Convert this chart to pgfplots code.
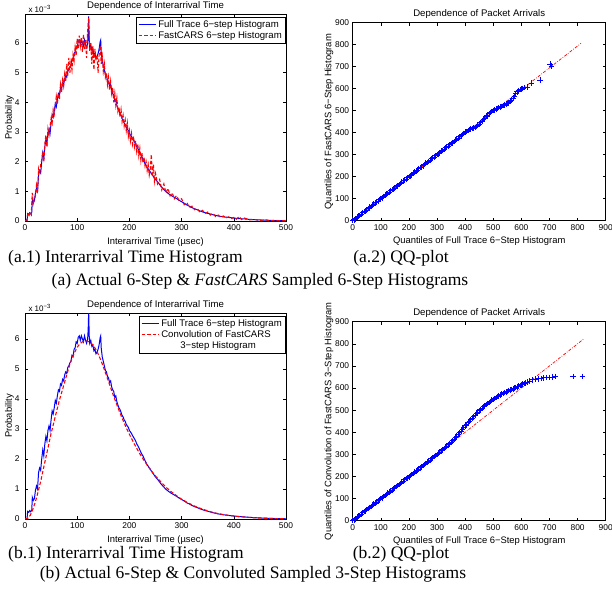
\documentclass[border=0pt]{standalone}
\usepackage{fontspec}
\setmainfont{Liberation Serif}
\newfontfamily\hv{Liberation Sans}
\usepackage{pgfplots}
\pgfplotsset{compat=1.18}

\pgfplotsset{
  every axis title shift=0pt,
  mlab/.style={
    scale only axis,
    font=\hv\fontsize{8.4}{10}\selectfont,
    tick align=inside, major tick length=3pt,
    axis line style={line width=0.6pt},
    every tick/.style={black, line width=0.5pt},
    /pgf/number format/assume math mode=true,
    scaled ticks=false,
    label style={font=\hv\fontsize{9.4}{11}\selectfont},
    title style={font=\hv\fontsize{9.6}{11}\selectfont, at={(0.5,1)}, anchor=base, yshift=5.8pt},
  },
  hist/.style={mlab,
    width=261pt, height=207pt,
    xmin=0, xmax=500, ymin=0,
    xtick={0,100,...,500}, ytick={0,1,...,6},
    yticklabel style={xshift=-2pt},
    ylabel shift=-6pt,
    xlabel={Interarrival Time (µsec)}, ylabel={Probability},
    title={Dependence of Interarrival Time},
    legend cell align=left,
    legend style={at={(1,1)}, anchor=north east, xshift=-0.5pt, yshift=-3pt,
      font=\hv\fontsize{9.6}{11}\selectfont, inner sep=1.5pt, row sep=-1.5pt},
    after end axis/.code={\node[anchor=base west, font=\hv\fontsize{8}{9.6}\selectfont]
      at ([yshift=2pt]rel axis cs:0,1) {x 10\textsuperscript{−3}};},
  },
  qq/.style={mlab,
    width=253pt, height=198pt,
    xmin=0, xmax=900, ymin=0, ymax=900,
    xtick={0,100,...,900}, ytick={0,100,...,900},
    ylabel shift=-5pt,
    xlabel={Quantiles of Full Trace 6−Step Histogram},
    title={Dependence of Packet Arrivals},
  },
  bluehist/.style={blue, line width=1pt, no marks},
  reddash/.style={red, line width=1.1pt, no marks, dash pattern=on 3.5pt off 2pt},
  qqpts/.style={blue, only marks, mark=+, mark size=2.8pt, line width=0.8pt},
  qqline/.style={red, line width=0.7pt, dash pattern=on 3pt off 1.5pt on 0.7pt off 1.5pt},
}

\begin{document}

% full trace 6-step histogram (probability x 1e-3), used in both (a.1) and (b.1)
\pgfplotstableread[row sep=\\]{
x y\\
0 0\\ 4 0.02\\ 5 0.25\\ 7 0.22\\ 9 0.28\\ 11 0.24\\ 13 0.3\\ 14 0.72\\ 16 0.62\\ 18 0.68\\
20 0.95\\ 22 1.1\\ 24 1.0\\ 26 1.55\\ 28 1.7\\ 30 1.62\\ 32 2.0\\ 34 2.3\\ 36 2.1\\ 38 2.5\\
40 2.75\\ 42 2.6\\ 44 2.95\\ 46 3.1\\ 48 2.95\\ 50 3.3\\ 52 3.6\\ 54 3.5\\ 56 3.7\\ 58 3.95\\
60 3.85\\ 62 4.1\\ 64 4.3\\ 66 4.25\\ 68 4.5\\ 70 4.45\\ 72 4.65\\ 74 4.6\\ 76 4.8\\ 78 4.9\\
80 4.85\\ 82 5.05\\ 84 5.1\\ 86 5.2\\ 88 5.25\\ 90 5.45\\ 92 5.4\\ 94 5.65\\ 96 5.7\\ 98 5.9\\
100 5.85\\ 102 6.05\\ 104 6.1\\ 106 5.95\\ 108 6.1\\ 110 6.0\\ 112 5.9\\ 114 6.1\\ 116 5.95\\ 118 5.85\\
120 6.0\\ 121 6.3\\ 122 6.9\\ 123 6.1\\ 124 5.85\\ 126 5.95\\ 128 5.75\\ 130 5.8\\ 132 5.6\\ 134 5.65\\
136 5.5\\ 138 5.55\\ 140 5.65\\ 142 5.8\\ 144 6.05\\ 145 6.1\\ 146 5.7\\ 148 5.4\\ 150 5.25\\ 152 5.1\\
154 4.95\\ 156 4.9\\ 158 4.75\\ 160 4.7\\ 162 4.55\\ 164 4.6\\ 166 4.4\\ 168 4.3\\ 170 4.25\\ 172 4.05\\
174 4.1\\ 176 3.9\\ 178 3.8\\ 180 3.7\\ 182 3.65\\ 184 3.55\\ 186 3.45\\ 188 3.4\\ 190 3.3\\ 192 3.25\\
194 3.15\\ 196 3.1\\ 198 3.05\\ 200 2.95\\ 202 2.9\\ 204 2.85\\ 206 2.78\\ 208 2.72\\ 210 2.66\\ 212 2.6\\
214 2.5\\ 216 2.45\\ 218 2.38\\ 220 2.3\\ 222 2.22\\ 224 2.15\\ 226 2.1\\ 228 2.02\\ 230 1.94\\ 232 1.88\\
234 1.8\\ 236 1.76\\ 238 1.7\\ 240 1.66\\ 242 1.6\\ 244 1.55\\ 246 1.5\\ 248 1.45\\ 250 1.4\\ 255 1.3\\
260 1.18\\ 265 1.08\\ 270 0.99\\ 275 0.92\\ 280 0.86\\ 285 0.81\\ 290 0.76\\ 295 0.7\\ 300 0.65\\ 305 0.6\\
310 0.54\\ 315 0.5\\ 320 0.45\\ 325 0.41\\ 330 0.38\\ 335 0.34\\ 340 0.31\\ 345 0.28\\ 350 0.26\\ 360 0.21\\
370 0.17\\ 380 0.14\\ 390 0.12\\ 400 0.1\\ 410 0.08\\ 420 0.07\\ 430 0.055\\ 440 0.045\\ 450 0.035\\ 460 0.03\\
470 0.02\\ 480 0.015\\ 490 0.01\\ 500 0.008\\
}\fulltrace

% FastCARS sampled 6-step histogram
\pgfplotstableread[row sep=\\]{
x y\\
0 0\\ 4 0.05\\ 6 0.28\\ 8 0.2\\ 10 0.3\\ 12 0.22\\ 14 0.95\\ 16 0.6\\ 18 0.75\\ 20 0.85\\
22 1.2\\ 24 0.95\\ 26 1.75\\ 28 1.6\\ 30 1.9\\ 32 2.05\\ 34 2.35\\ 36 2.0\\ 38 2.6\\ 40 2.9\\
42 2.5\\ 44 3.1\\ 46 2.9\\ 48 3.2\\ 50 3.45\\ 52 3.3\\ 54 3.75\\ 56 3.6\\ 58 3.9\\ 60 4.2\\
62 3.95\\ 64 4.3\\ 66 4.1\\ 68 4.6\\ 70 4.35\\ 72 4.75\\ 74 4.55\\ 76 4.95\\ 78 4.7\\ 80 5.3\\
82 4.9\\ 84 5.5\\ 86 5.0\\ 88 5.35\\ 90 5.1\\ 92 5.6\\ 94 5.4\\ 96 5.85\\ 98 5.6\\ 100 6.15\\
102 5.8\\ 104 6.25\\ 106 5.9\\ 108 6.2\\ 110 5.7\\ 112 6.3\\ 114 5.8\\ 116 6.1\\ 118 5.5\\ 120 6.4\\
122 6.85\\ 124 5.7\\ 126 6.0\\ 128 5.3\\ 130 5.9\\ 132 5.1\\ 134 5.8\\ 136 5.4\\ 138 5.6\\ 140 5.0\\
142 5.6\\ 144 5.9\\ 146 5.3\\ 148 5.55\\ 150 5.05\\ 152 5.3\\ 154 4.85\\ 156 5.0\\ 158 4.6\\ 160 4.85\\
162 4.4\\ 164 4.7\\ 166 4.3\\ 168 4.5\\ 170 4.0\\ 172 4.3\\ 174 3.9\\ 176 4.15\\ 178 3.7\\ 180 3.85\\
182 3.5\\ 184 3.75\\ 186 3.35\\ 188 3.55\\ 190 3.2\\ 192 3.4\\ 194 3.05\\ 196 3.3\\ 198 2.85\\ 200 3.05\\
202 2.7\\ 204 2.95\\ 206 2.6\\ 208 2.85\\ 210 2.5\\ 212 2.7\\ 214 2.35\\ 216 2.6\\ 218 2.2\\ 220 2.45\\
222 2.05\\ 224 2.3\\ 226 1.95\\ 228 2.15\\ 230 1.85\\ 232 2.0\\ 234 1.7\\ 236 1.9\\ 238 1.55\\ 240 1.75\\
242 2.25\\ 244 1.5\\ 246 1.9\\ 248 1.35\\ 250 1.6\\ 254 1.25\\ 258 1.4\\ 262 1.05\\ 266 1.25\\ 270 0.95\\
274 1.1\\ 278 0.85\\ 282 0.95\\ 286 0.75\\ 290 0.85\\ 295 0.7\\ 300 0.75\\ 305 0.55\\ 310 0.62\\ 315 0.45\\
320 0.5\\ 325 0.38\\ 330 0.42\\ 335 0.3\\ 340 0.36\\ 345 0.25\\ 350 0.3\\ 355 0.2\\ 360 0.26\\ 365 0.15\\
370 0.2\\ 375 0.12\\ 380 0.17\\ 385 0.1\\ 390 0.14\\ 395 0.08\\ 400 0.12\\ 405 0.06\\ 410 0.15\\ 415 0.05\\
420 0.1\\ 430 0.04\\ 440 0.05\\ 450 0.02\\ 460 0.04\\ 470 0.01\\ 480 0.02\\ 490 0.005\\ 500 0.01\\
}\fastsix

% convolution of FastCARS 3-step histogram
\pgfplotstableread[row sep=\\]{
x y\\
0 0\\ 5 0.02\\ 10 0.12\\ 15 0.32\\ 20 0.58\\ 25 0.9\\ 30 1.25\\ 35 1.65\\ 40 2.05\\ 45 2.45\\
50 2.85\\ 55 3.2\\ 60 3.55\\ 65 3.9\\ 70 4.2\\ 75 4.5\\ 80 4.8\\ 85 5.1\\ 90 5.35\\ 95 5.55\\
100 5.72\\ 105 5.83\\ 110 5.9\\ 115 5.93\\ 120 5.92\\ 125 5.88\\ 130 5.8\\ 135 5.67\\ 140 5.5\\ 145 5.3\\
150 5.07\\ 155 4.83\\ 160 4.58\\ 165 4.33\\ 170 4.08\\ 175 3.85\\ 180 3.62\\ 185 3.4\\ 190 3.2\\ 195 3.0\\
200 2.82\\ 210 2.48\\ 220 2.17\\ 230 1.9\\ 240 1.65\\ 250 1.43\\ 260 1.24\\ 270 1.06\\ 280 0.91\\ 290 0.78\\
300 0.66\\ 310 0.56\\ 320 0.47\\ 330 0.39\\ 340 0.33\\ 350 0.27\\ 360 0.22\\ 370 0.18\\ 380 0.15\\ 390 0.12\\
400 0.1\\ 420 0.065\\ 440 0.04\\ 460 0.025\\ 480 0.015\\ 500 0.008\\
}\convthree

% QQ quantiles: full trace vs FastCARS 6-step
\pgfplotstableread[row sep=\\]{
x y\\
0 2\\ 5 4\\ 10 9\\ 15 16\\ 20 21\\ 25 24\\ 30 29\\ 35 36\\ 40 41\\ 45 44\\ 50 49\\ 55 56\\ 60 61\\ 65 64\\ 70 69\\ 75 76\\ 80 81\\ 85 84\\ 90 89\\ 95 96\\
100 101\\ 105 104\\ 110 110\\ 115 116\\ 120 121\\ 125 124\\ 130 129\\ 135 136\\ 140 141\\ 145 144\\ 150 149\\ 155 156\\ 160 160\\ 165 164\\ 170 169\\ 175 176\\ 180 181\\ 185 184\\ 190 190\\ 195 196\\
200 201\\ 205 204\\ 210 209\\ 215 216\\ 220 221\\ 225 224\\ 230 229\\ 235 236\\ 240 241\\ 245 244\\ 250 250\\ 255 256\\ 260 261\\ 265 264\\ 270 269\\ 275 276\\ 280 281\\ 285 284\\ 290 290\\ 295 296\\
300 301\\ 305 304\\ 310 309\\ 315 316\\ 320 320\\ 325 325\\ 330 331\\ 335 334\\ 340 340\\ 345 346\\ 350 351\\ 355 354\\ 360 360\\ 365 366\\ 370 371\\ 375 375\\ 380 381\\ 385 386\\ 390 392\\ 395 397\\
400 402\\ 405 405\\ 410 410\\ 415 414\\ 420 417\\ 425 420\\ 430 422\\ 435 424\\ 440 428\\ 445 434\\
450 440\\ 455 446\\ 460 453\\ 465 460\\ 470 467\\ 475 474\\ 480 480\\ 485 486\\ 490 492\\ 495 497\\
500 501\\ 505 504\\ 510 507\\ 515 510\\ 520 514\\ 525 517\\ 530 520\\ 535 523\\ 540 527\\ 545 531\\
550 533\\ 555 536\\ 560 541\\ 565 548\\ 570 557\\ 575 567\\ 580 577\\ 585 586\\ 590 592\\ 595 596\\
600 599\\ 605 601\\ 612 605\\ 620 608\\ 636 625\\ 666 640\\ 702 712\\ 707 703\\
}\qqsix

% QQ quantiles: full trace vs convolution of FastCARS 3-step
\pgfplotstableread[row sep=\\]{
x y\\
0 2\\ 5 4\\ 10 9\\ 15 16\\ 20 21\\ 25 24\\ 30 29\\ 35 36\\ 40 41\\ 45 45\\ 50 50\\ 55 55\\ 60 60\\ 65 65\\ 70 70\\ 75 75\\ 80 80\\ 85 85\\ 90 90\\ 95 95\\
100 100\\ 105 104\\ 110 109\\ 115 114\\ 120 119\\ 125 124\\ 130 129\\ 135 134\\ 140 139\\ 145 144\\ 150 149\\ 155 154\\ 160 159\\ 165 164\\ 170 169\\ 175 175\\ 180 180\\ 185 185\\ 190 190\\ 195 194\\
200 199\\ 205 204\\ 210 209\\ 215 214\\ 220 219\\ 225 224\\ 230 229\\ 235 234\\ 240 239\\ 245 244\\ 250 249\\ 255 254\\ 260 259\\ 265 265\\ 270 270\\ 275 275\\ 280 280\\ 285 285\\ 290 290\\ 295 295\\
300 300\\ 305 305\\ 310 311\\ 315 316\\ 320 321\\ 325 326\\ 330 332\\ 335 337\\ 340 343\\ 345 349\\ 350 355\\ 355 361\\ 360 368\\ 365 375\\ 370 382\\ 375 390\\
380 398\\ 385 406\\ 390 414\\ 395 422\\ 400 429\\ 405 436\\ 410 443\\ 415 450\\ 420 457\\ 425 464\\
430 471\\ 435 478\\ 440 485\\ 445 491\\ 450 497\\ 455 503\\ 460 509\\ 465 515\\ 470 520\\ 475 525\\
480 530\\ 485 535\\ 490 540\\ 495 545\\ 500 549\\ 505 553\\ 510 557\\ 515 561\\ 520 565\\ 525 569\\
530 572\\ 535 576\\ 540 579\\ 545 582\\ 550 585\\ 555 588\\ 560 591\\ 565 594\\ 570 597\\ 575 600\\
580 603\\ 585 606\\ 590 609\\ 595 612\\ 600 615\\ 605 618\\ 610 621\\ 615 624\\ 620 627\\ 630 632\\
640 637\\ 650 640\\ 660 642\\ 670 644\\ 680 646\\ 690 647\\ 700 648\\ 712 650\\ 722 652\\ 784 652\\
817 652\\
}\qqthree

\begin{tikzpicture}
\useasboundingbox (0,0) rectangle (612pt,598pt);

% (a.1)
\begin{axis}[hist, at={(25pt,377pt)}, anchor=south west, ymax=6.98]
\addplot[bluehist] table {\fulltrace};
\addlegendentry{Full Trace 6−step Histogram}
\addplot[reddash] table {\fastsix};
\addlegendentry{FastCARS 6−step Histogram}
\end{axis}

% (a.2)
\begin{axis}[qq, at={(352.7pt,377.3pt)}, anchor=south west,
  ylabel={Quantiles of FastCARS 6−Step Histogram}]
\addplot[qqline] coordinates {(0,0) (812,806)};
\addplot[qqpts] table {\qqsix};
\end{axis}

% (b.1)
\begin{axis}[hist, at={(25pt,79pt)}, anchor=south west, height=206pt, ymax=6.86]
\addplot[bluehist] table {\fulltrace};
\addlegendentry{Full Trace 6−step Histogram}
\addplot[reddash] table {\convthree};
\addlegendentry{Convolution of FastCARS}
\addlegendimage{empty legend}
\addlegendentry{\hspace{19pt}3−step Histogram}
\end{axis}

% (b.2)
\begin{axis}[qq, at={(352.7pt,77.3pt)}, anchor=south west, height=199pt,
  ylabel={Quantiles of Convolution of FastCARS 3−Step Histogram}]
\addplot[qqline] coordinates {(0,0) (820,820)};
\addplot[qqpts] table {\qqthree};
\end{axis}

% sub-captions
\begin{scope}[every node/.style={font=\fontsize{17.5}{20}\selectfont, inner sep=0pt}]
\node[anchor=base west] at (8pt,336pt) {(a.1) Interarrival Time Histogram};
\node[anchor=base] at (401pt,336pt) {(a.2) QQ-plot};
\node[anchor=base] at (260pt,313pt) {(a) Actual 6-Step \& \textit{FastCARS} Sampled 6-Step Histograms};
\node[anchor=base west] at (8pt,40pt) {(b.1) Interarrival Time Histogram};
\node[anchor=base] at (401pt,40pt) {(b.2) QQ-plot};
\node[anchor=base] at (253pt,20pt) {(b) Actual 6-Step \& Convoluted Sampled 3-Step Histograms};
\end{scope}
\end{tikzpicture}
\end{document}
